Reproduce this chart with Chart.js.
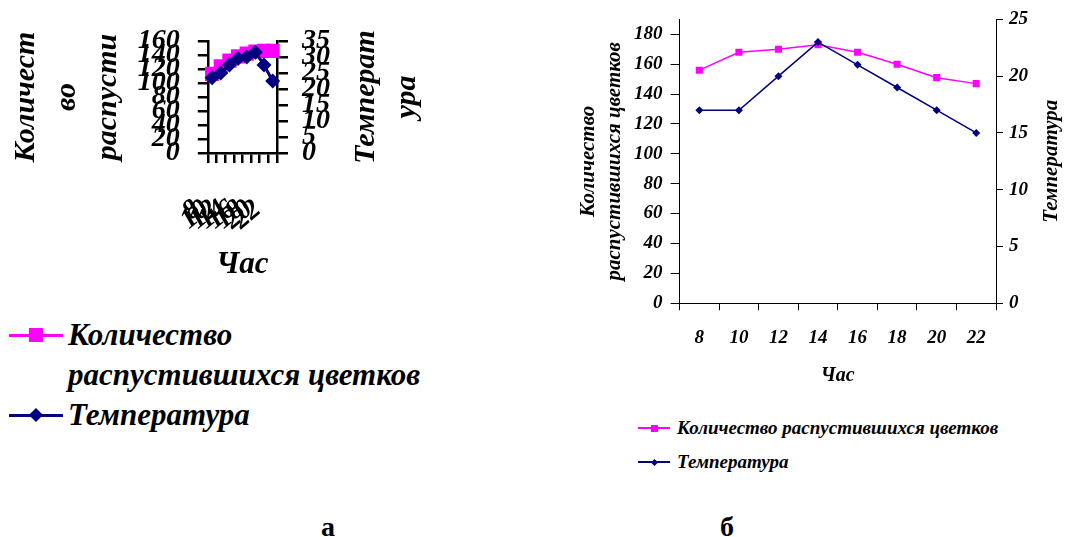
<!DOCTYPE html>
<html>
<head>
<meta charset="utf-8">
<script src="https://cdn.jsdelivr.net/npm/chart.js@4.4.1/dist/chart.umd.min.js"></script>
<style>
  html, body { margin: 0; padding: 0; background: #fff; }
  body { width: 1065px; height: 537px; position: relative; overflow: hidden; font-family: 'Liberation Serif', 'Times New Roman', serif; }
  canvas { position: absolute; }
  .legend { position: absolute; font-weight: bold; font-style: italic; color: #000; }
  .legend .item { display: flex; align-items: flex-start; }
  .legend .sym { position: relative; flex: none; }
  .legend .ln { position: absolute; left: 0; right: 0; }
  .legend .mk { position: absolute; }
  .caption { position: absolute; width: 40px; text-align: center; font-weight: bold; font-size: 28px; line-height: 30px; }
</style>
</head>
<body>
<canvas id="chartA" width="440" height="300" style="left:0;top:0"></canvas>
<canvas id="chartB" width="495" height="395" style="left:570px;top:0"></canvas>
<div id="legendA" class="legend" style="left:0;top:315px;width:460px;font-size:31px;line-height:40px"></div>
<div id="legendB" class="legend" style="left:629px;top:411px;width:436px;font-size:19px;line-height:34px"></div>
<div class="caption" style="left:308px;top:512px">а</div>
<div class="caption" style="left:707px;top:512px">б</div>
<script>
// --- DATA ---
const hours = ['8', '10', '12', '14', '16', '18', '20', '22'];
const seriesNames = ['Количество распустившихся цветков', 'Температура'];

// panel "а"
const flowersA = [113, 124, 132, 138, 142, 145, 146, 146];
const tempA = [23.5, 25, 27.5, 29.5, 30, 31.5, 27.5, 22.5];

// panel "б"
const flowersB = [156, 168, 170, 173, 168, 160, 151, 147];
const tempB = [17, 17, 20, 23, 21, 19, 17, 15];
const flowerTicksB = [0, 20, 40, 60, 80, 100, 120, 140, 160, 180]; // axis runs to 190, no label there

const PINK = '#FF00FF';
const NAVY = '#000080';
const SERIF = "'Liberation Serif', 'Times New Roman', serif";

function bi(size, lineHeight) {
    return { family: SERIF, size: size, style: 'italic', weight: 'bold', lineHeight: lineHeight || 1.2 };
}

// Chart.js caps axis boxes at a share of the canvas; give them their natural size instead
function titleSize(t) {
    if (!t.display) return 0;
    const lines = Array.isArray(t.text) ? t.text.length : 1;
    const p = t.padding || {};
    return lines * t.font.size * t.font.lineHeight + (p.top || 0) + (p.bottom || 0);
}
function fullFit(axis) {
    const o = axis.options;
    const sizes = axis._getLabelSizes();
    const base = o.grid.tickLength + o.ticks.padding + titleSize(o.title);
    if (axis.isHorizontal()) {
        const rot = (axis.labelRotation || 0) * Math.PI / 180;
        axis.height = base + Math.sin(rot) * sizes.widest.width + Math.cos(rot) * sizes.highest.height;
    } else {
        axis.width = base + sizes.widest.width;
    }
}

// right-hand axis title reads bottom-to-top like the left one
const flippedTitle = {
    id: 'flippedTitle',
    afterDraw(chart, args, opts) {
        const s = chart.scales[opts.scaleId];
        if (!s) return;
        const ctx = chart.ctx;
        const cy = (chart.chartArea.top + chart.chartArea.bottom) / 2;
        ctx.save();
        ctx.font = 'italic bold ' + opts.size + 'px ' + SERIF;
        ctx.fillStyle = '#000';
        ctx.textAlign = 'center';
        ctx.textBaseline = 'middle';
        opts.lines.forEach((line, i) => {
            ctx.save();
            ctx.translate(s.right + opts.offset + i * opts.lineHeight, cy);
            ctx.rotate(-Math.PI / 2);
            ctx.fillText(line, 0, 0);
            ctx.restore();
        });
        ctx.restore();
    }
};

function makeDatasets(flowers, temp, st) {
    return [{
        label: seriesNames[0],
        data: flowers,
        yAxisID: 'y',
        order: 1,
        borderColor: PINK,
        backgroundColor: PINK,
        borderWidth: st.line,
        pointStyle: 'rect',
        pointRadius: st.rect,
        pointBorderWidth: 0,
        pointHoverRadius: st.rect
    }, {
        label: seriesNames[1],
        data: temp,
        yAxisID: 'y1',
        order: 0,
        borderColor: NAVY,
        backgroundColor: NAVY,
        borderWidth: st.line,
        pointStyle: 'rectRot',
        pointRadius: st.diamond,
        pointBorderWidth: 0,
        pointHoverRadius: st.diamond
    }];
}

function htmlLegend(chart, el, sym) {
    chart.data.datasets.forEach(ds => {
        const item = document.createElement('div');
        item.className = 'item';
        const s = document.createElement('span');
        s.className = 'sym';
        s.style.width = sym.w + 'px';
        s.style.height = sym.h + 'px';
        s.style.marginLeft = sym.left + 'px';
        s.style.marginRight = sym.gap + 'px';
        const ln = document.createElement('span');
        ln.className = 'ln';
        ln.style.height = sym.line + 'px';
        ln.style.top = ((sym.h - sym.line) / 2) + 'px';
        ln.style.background = ds.borderColor;
        s.appendChild(ln);
        const mk = document.createElement('span');
        mk.className = 'mk';
        let side = sym.mark;
        if (ds.pointStyle === 'rectRot') {
            side = sym.mark / Math.SQRT2;
            mk.style.transform = 'rotate(45deg)';
        }
        mk.style.width = side + 'px';
        mk.style.height = side + 'px';
        mk.style.left = ((sym.w - side) / 2) + 'px';
        mk.style.top = ((sym.h - side) / 2) + 'px';
        mk.style.background = ds.backgroundColor;
        s.appendChild(mk);
        const t = document.createElement('span');
        t.textContent = ds.label;
        if (sym.textWidth) t.style.maxWidth = sym.textWidth + 'px';
        item.appendChild(s);
        item.appendChild(t);
        el.appendChild(item);
    });
}

// --- PANEL "а" (squashed chart) ---
const chartA = new Chart(document.getElementById('chartA'), {
    type: 'line',
    data: { labels: hours, datasets: makeDatasets(flowersA, tempA, { line: 3, rect: 10, diamond: 7.5 }) },
    plugins: [flippedTitle],
    options: {
        responsive: false,
        animation: false,
        layout: { padding: { left: 2, right: 110, top: 41, bottom: 16 } },
        scales: {
            x: {
                offset: true,
                afterFit: fullFit,
                grid: { offset: true, drawOnChartArea: false, color: '#000', lineWidth: 2.5, tickLength: 10 },
                border: { color: '#000', width: 2.5 },
                ticks: { color: '#000', font: bi(28), autoSkip: false, minRotation: 40, maxRotation: 40, padding: 30, labelOffset: -15 },
                title: { display: true, text: 'Час', color: '#000', font: bi(31), padding: { top: 10, bottom: 0 } }
            },
            y: {
                position: 'left',
                min: 0,
                max: 160,
                afterFit: fullFit,
                grid: { drawOnChartArea: false, color: '#000', lineWidth: 2.5, tickLength: 10 },
                border: { color: '#000', width: 2.5 },
                ticks: { stepSize: 20, autoSkip: false, color: '#000', font: bi(28), padding: 18 },
                title: { display: true, text: ['Количест', 'во', 'распусти'], color: '#000', font: bi(30, 1.37), padding: { top: 3.5, bottom: 9 } }
            },
            y1: {
                position: 'right',
                min: 0,
                max: 35,
                afterFit: fullFit,
                grid: { drawOnChartArea: false, color: '#000', lineWidth: 2.5, tickLength: 11 },
                border: { color: '#000', width: 2.5 },
                ticks: { stepSize: 5, autoSkip: false, color: '#000', font: bi(28), padding: 14 }
            }
        },
        plugins: {
            legend: { display: false },
            tooltip: { enabled: false },
            flippedTitle: { scaleId: 'y1', lines: ['Температ', 'ура'], size: 30, offset: 36, lineHeight: 41 }
        }
    }
});

// --- PANEL "б" ---
const chartB = new Chart(document.getElementById('chartB'), {
    type: 'line',
    data: { labels: hours, datasets: makeDatasets(flowersB, tempB, { line: 1.5, rect: 5, diamond: 4 }) },
    plugins: [flippedTitle],
    options: {
        responsive: false,
        animation: false,
        layout: { padding: { left: 6, right: 37, top: 17, bottom: 7 } },
        scales: {
            x: {
                offset: true,
                afterFit: fullFit,
                grid: { offset: true, drawOnChartArea: false, color: '#000', tickLength: 7 },
                border: { color: '#000', width: 1 },
                ticks: { color: '#000', font: bi(19), autoSkip: false, maxRotation: 0, padding: 16 },
                title: { display: true, text: 'Час', color: '#000', font: bi(20), padding: { top: 15, bottom: 0 } }
            },
            y: {
                position: 'left',
                min: 0,
                max: 190,
                afterBuildTicks: axis => { axis.ticks = flowerTicksB.map(v => ({ value: v })); },
                afterFit: fullFit,
                grid: { drawOnChartArea: false, color: '#000', tickLength: 9 },
                border: { color: '#000', width: 1 },
                ticks: { autoSkip: false, color: '#000', font: bi(19), padding: 8 },
                title: { display: true, text: ['Количество', 'распустившихся цветков'], color: '#000', font: bi(21, 1.24), padding: { top: 0, bottom: 6 } }
            },
            y1: {
                position: 'right',
                min: 0,
                max: 25,
                afterFit: fullFit,
                grid: { drawOnChartArea: false, color: '#000', tickLength: 7 },
                border: { color: '#000', width: 1 },
                ticks: { stepSize: 5, autoSkip: false, color: '#000', font: bi(19), padding: 6 }
            }
        },
        plugins: {
            legend: { display: false },
            tooltip: { enabled: false },
            flippedTitle: { scaleId: 'y1', lines: ['Температура'], size: 21, offset: 24, lineHeight: 26 }
        }
    }
});

htmlLegend(chartA, document.getElementById('legendA'), { w: 54, h: 40, left: 9, gap: 5, line: 3, mark: 14, textWidth: 375 });
htmlLegend(chartB, document.getElementById('legendB'), { w: 32, h: 34, left: 9, gap: 7, line: 1.5, mark: 7 });
</script>
</body>
</html>
